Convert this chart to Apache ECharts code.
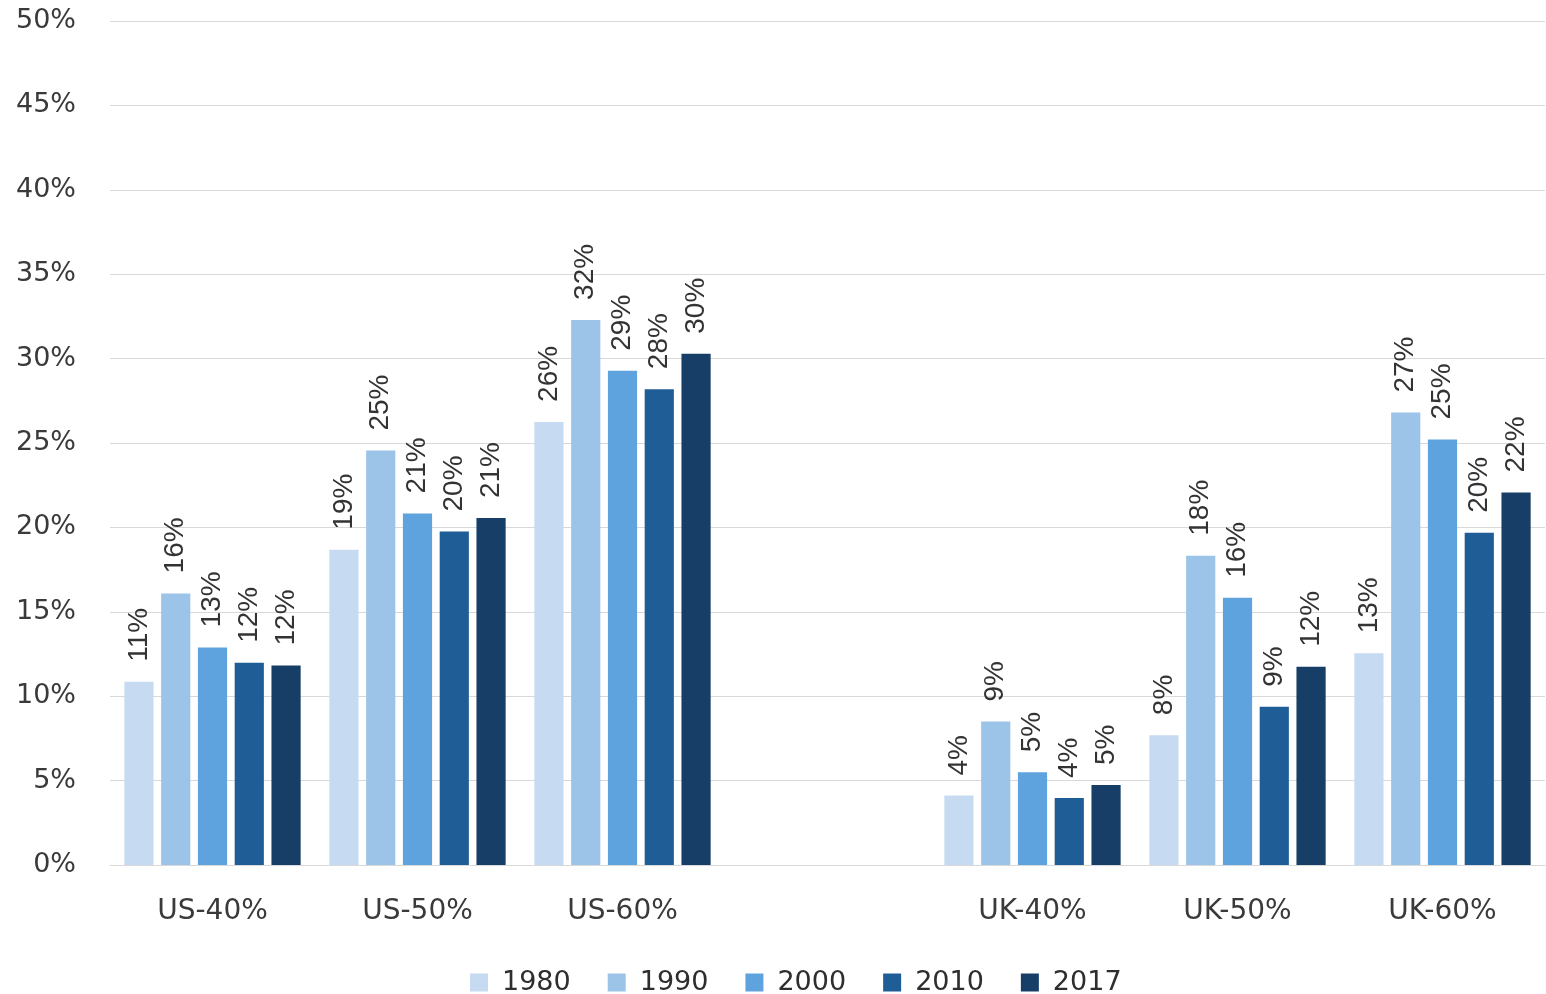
<!DOCTYPE html>
<html>
<head>
<meta charset="utf-8">
<title>Share by threshold, US and UK</title>
<script src="https://cdn.jsdelivr.net/npm/echarts@6/dist/echarts.min.js"></script>
<style>
  html, body { margin: 0; padding: 0; background: #ffffff; }
  #chart { width: 1546px; height: 994px; }
</style>
</head>
<body>
<div id="chart"></div>
<script>
// Categories (the empty entry separates the US and UK groups)
const categories = ['US-40%', 'US-50%', 'US-60%', '', 'UK-40%', 'UK-50%', 'UK-60%'];

// Share values in percent, one array per year
const years = ['1980', '1990', '2000', '2010', '2017'];
const v1980 = [10.85, 18.68, 26.25, '-', 4.11, 7.69, 12.54];
const v1990 = [16.09, 24.55, 32.29, '-', 8.50, 18.32, 26.80];
const v2000 = [12.89, 20.83, 29.28, '-', 5.49, 15.83, 25.21];
const v2010 = [11.98, 19.76, 28.19, '-', 3.97, 9.37, 19.68];
const v2017 = [11.82, 20.55, 30.29, '-', 4.74, 11.74, 22.07];

const yTicks = { min: 0, max: 50, step: 5 };

const palette = ['#c6dbf1', '#9cc4e8', '#5ea3de', '#1f5d97', '#163e66'];
const textColor = '#3a3a3a';

const seriesValues = [v1980, v1990, v2000, v2010, v2017];

const chart = echarts.init(document.getElementById('chart'), null, { renderer: 'canvas' });

chart.setOption({
  animation: false,
  backgroundColor: '#ffffff',
  color: palette,
  grid: { left: 110, right: 1, top: 21, bottom: 129, containLabel: false },
  legend: {
    data: years,
    left: 465,
    top: 964,
    itemWidth: 18,
    itemHeight: 18,
    itemGap: 37,
    icon: 'rect',
    textStyle: {
      fontFamily: 'DejaVu Sans',
      fontSize: 27,
      color: '#2e2e2e',
      padding: [0, 0, 0, 9]
    }
  },
  xAxis: {
    type: 'category',
    data: categories,
    axisLine: { lineStyle: { color: '#d9d9d9', width: 1 } },
    axisTick: { show: false },
    axisLabel: {
      margin: 33,
      fontFamily: 'DejaVu Sans',
      fontSize: 28,
      color: textColor
    }
  },
  yAxis: {
    type: 'value',
    min: yTicks.min,
    max: yTicks.max,
    interval: yTicks.step,
    axisLine: { show: false },
    axisTick: { show: false },
    splitLine: { lineStyle: { color: '#d9d9d9', width: 1 } },
    axisLabel: {
      margin: 34,
      fontFamily: 'DejaVu Sans',
      fontSize: 27,
      color: textColor,
      formatter: '{value}%'
    }
  },
  series: years.map((y, i) => ({
    name: y,
    type: 'bar',
    data: seriesValues[i],
    barCategoryGap: '14%',
    barGap: '26%',
    label: {
      show: true,
      position: 'top',
      rotate: 90,
      align: 'left',
      verticalAlign: 'middle',
      distance: 20,
      fontFamily: 'Liberation Sans',
      fontSize: 28,
      color: '#333333',
      formatter: p => Math.round(p.value) + '%'
    }
  }))
});
</script>
</body>
</html>
